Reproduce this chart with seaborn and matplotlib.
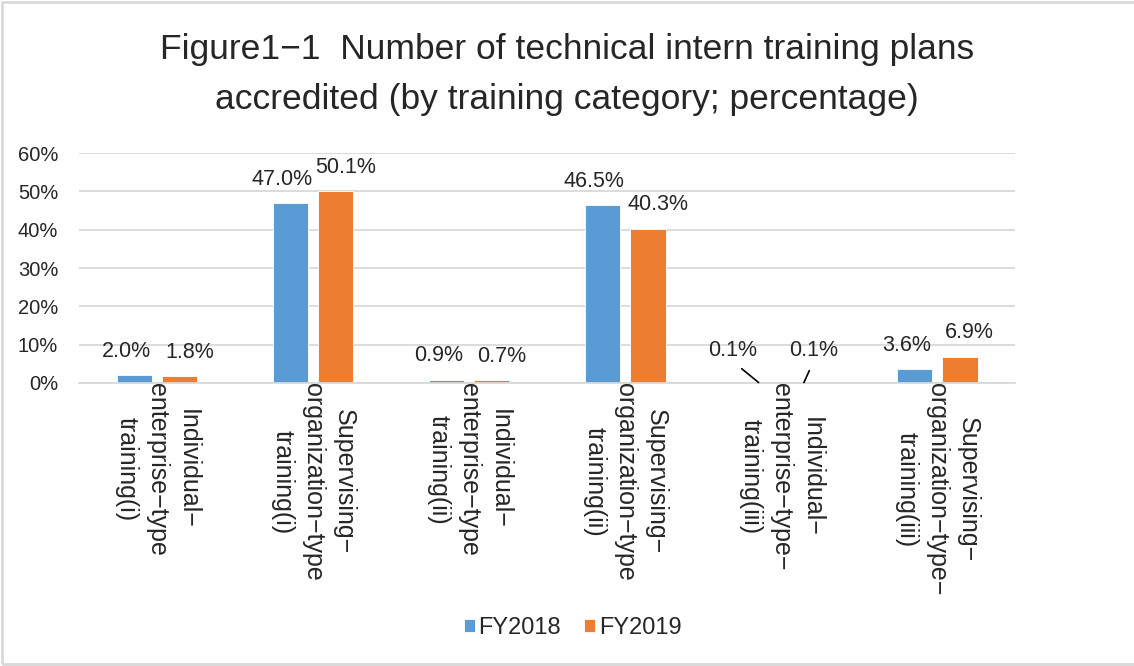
import matplotlib
matplotlib.use("Agg")
import matplotlib.pyplot as plt
import matplotlib.ticker as mticker
from matplotlib.patches import Rectangle
import pandas as pd
import seaborn as sns

# ── Data ─────────────────────────────────────────────────────────────────────
CATEGORIES = [
    "Individual−\nenterprise−type\ntraining(i)",
    "Supervising−\norganization−type\ntraining(i)",
    "Individual−\nenterprise−type\ntraining(ii)",
    "Supervising−\norganization−type\ntraining(ii)",
    "Individual−\nenterprise−type−\ntraining(iii)",
    "Supervising−\norganization−type−\ntraining(iii)",
]
FY2018 = [2.0, 47.0, 0.9, 46.5, 0.1, 3.6]
FY2019 = [1.8, 50.1, 0.7, 40.3, 0.1, 6.9]
YEARS  = ["FY2018", "FY2019"]
TITLE  = "Figure1−1  Number of technical intern training plans\naccredited (by training category; percentage)"

# ── Style ────────────────────────────────────────────────────────────────────
BLUE   = "#5B9BD5"
ORANGE = "#ED7D31"
GRID   = "#D9D9D9"
TEXT   = "#262626"

sns.set_style("white")
plt.rcParams["font.family"] = ["Liberation Sans", "DejaVu Sans"]

df = pd.DataFrame({
    "category": CATEGORIES * 2,
    "value":    [v / 100 for v in FY2018 + FY2019],
    "year":     [YEARS[0]] * len(CATEGORIES) + [YEARS[1]] * len(CATEGORIES),
})

fig = plt.figure(figsize=(11.34, 6.66), dpi=100)
ax = fig.add_axes([0.0697, 0.425, 0.8257, 0.345])

sns.barplot(data=df, x="category", y="value", hue="year",
            palette=[BLUE, ORANGE], saturation=1, width=0.58, gap=0.22,
            edgecolor="white", linewidth=0.6, ax=ax)

ax.set_ylim(0, 0.6)
ax.set_xlim(-0.5, len(CATEGORIES) - 0.5)
ax.yaxis.set_major_locator(mticker.MultipleLocator(0.1))
ax.yaxis.set_major_formatter(mticker.FuncFormatter(lambda y, _: f"{y * 100:.0f}%"))
ax.grid(axis="y", color=GRID, linewidth=1.3)
ax.set_axisbelow(True)
for side in ["top", "right", "left"]:
    ax.spines[side].set_visible(False)
ax.spines["bottom"].set_color(GRID)
ax.spines["bottom"].set_linewidth(1.3)
ax.set_xlabel("")
ax.set_ylabel("")
ax.tick_params(axis="y", length=0, pad=15, labelsize=14.5, labelcolor=TEXT)
ax.tick_params(axis="x", length=0, pad=0, labelsize=18, labelcolor=TEXT)
ax.set_xticks(range(len(CATEGORIES)))
ax.set_xticklabels(CATEGORIES, rotation=-90, ha="center", va="top",
                   multialignment="center", linespacing=1.35)

# ── Data labels ──────────────────────────────────────────────────────────────
for bar in ax.patches:
    h = bar.get_height()
    if h == 0 or bar.get_width() == 0:
        continue
    x = bar.get_x() + bar.get_width() / 2
    is_left = bar.get_facecolor()[2] > 0.6
    if h < 0.005:
        # tiny bars: label pushed outwards with a leader line (Excel style)
        dx = -19 if is_left else 7
        ax.annotate(f"{h * 100:.1f}%", xy=(x, h), xytext=(dx, 15.5),
                    textcoords="offset points", ha="center", va="bottom",
                    fontsize=15.5, color=TEXT,
                    arrowprops=dict(arrowstyle="-", color="black", lw=1.2,
                                    shrinkA=5, shrinkB=0,
                                    relpos=(0.5, 0.0)))
    else:
        dx = -6 if is_left else 7
        ax.annotate(f"{h * 100:.1f}%", xy=(x, h), xytext=(dx, 9.5),
                    textcoords="offset points", ha="center", va="bottom",
                    fontsize=15.5, color=TEXT)

# ── Legend ───────────────────────────────────────────────────────────────────
handles, labels = ax.get_legend_handles_labels()
ax.legend_.remove()
fig.legend(handles, labels, loc="center", bbox_to_anchor=(0.505, 1 - 628 / 666),
           ncol=2, frameon=False, fontsize=17, handlelength=0.45,
           handleheight=0.45, handletextpad=0.15, columnspacing=1.0,
           labelcolor=TEXT)

fig.suptitle(TITLE, y=0.951, va="top", fontsize=25.5, color=TEXT, linespacing=1.65)

fig.patches.append(Rectangle((0.0015, 0.003), 1.2, 0.994,
                             transform=fig.transFigure, fill=False,
                             edgecolor=GRID, linewidth=2))

fig.savefig("out.png", dpi=100, facecolor="white")
